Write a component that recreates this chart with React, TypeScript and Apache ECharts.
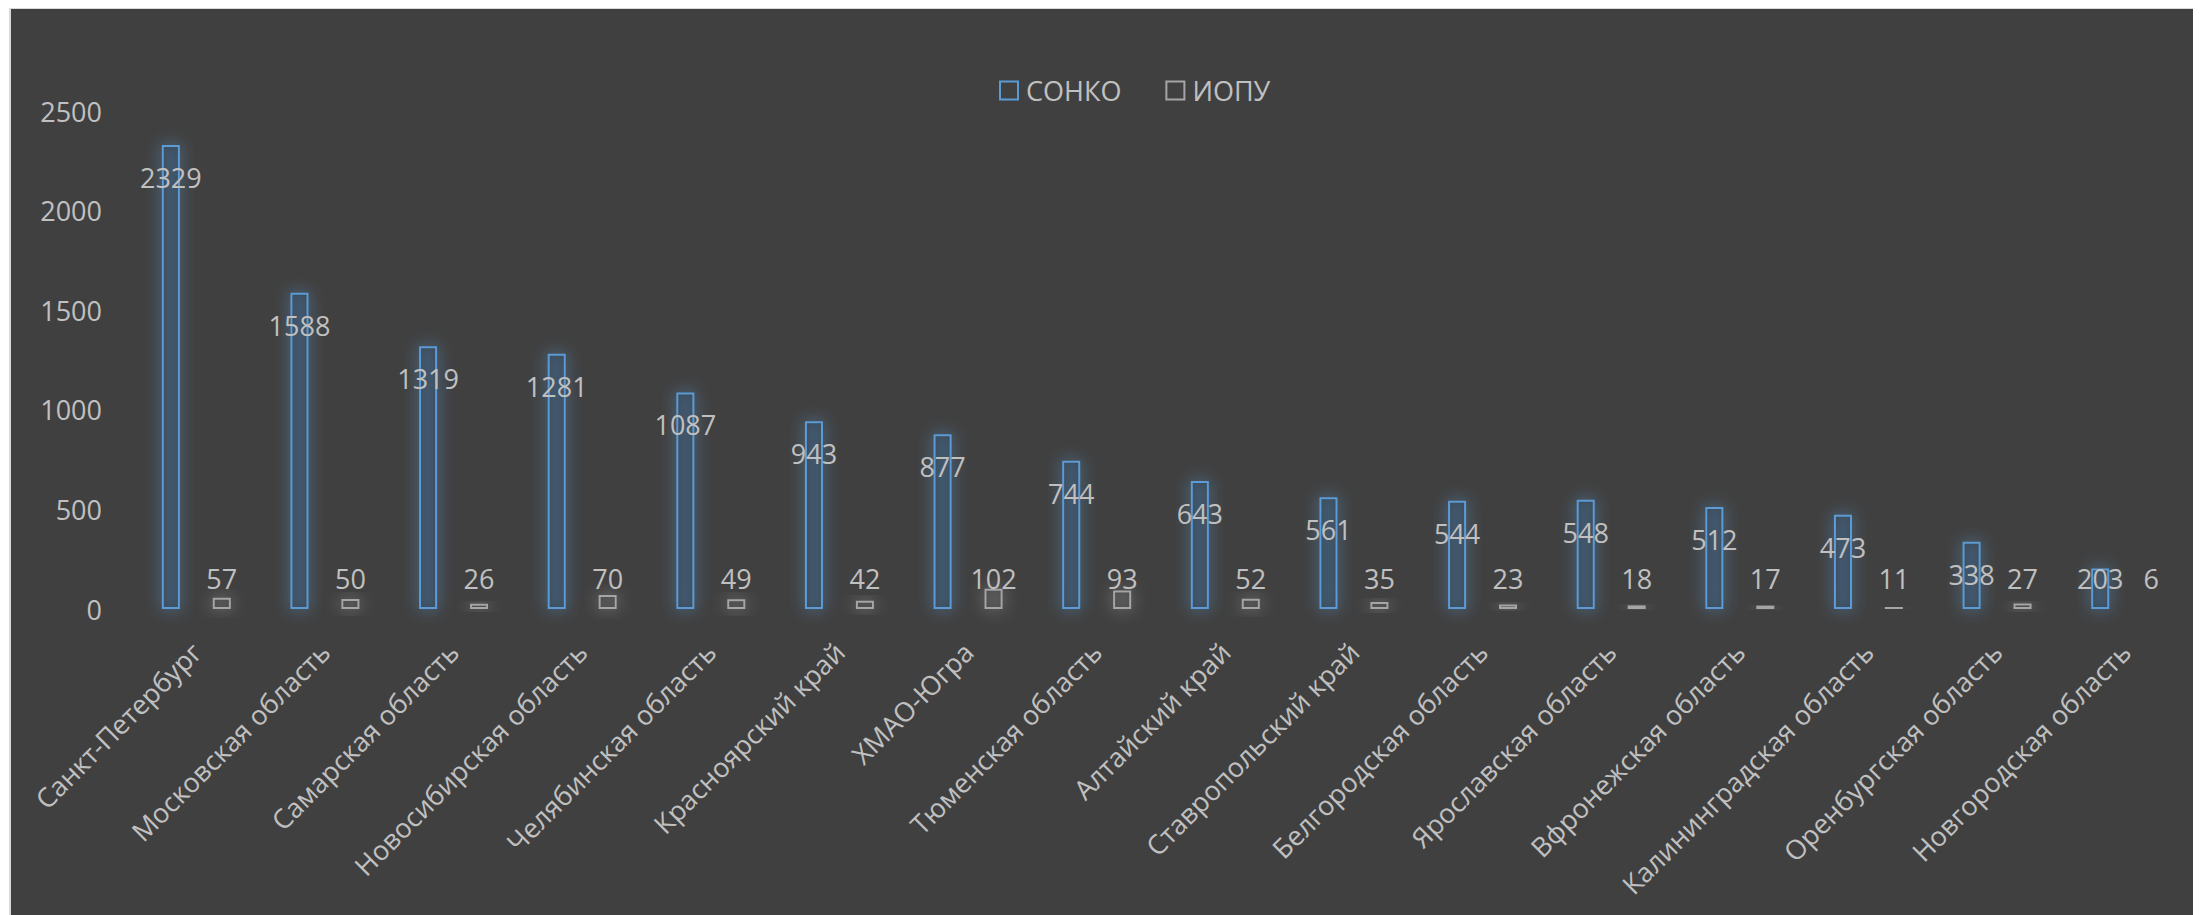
import React, { useEffect, useRef } from "react";
import * as echarts from "echarts";

const categories = [
  "Санкт-Петербург",
  "Московская область",
  "Самарская область",
  "Новосибирская область",
  "Челябинская область",
  "Красноярский край",
  "ХМАО-Югра",
  "Тюменская область",
  "Алтайский край",
  "Ставропольский край",
  "Белгородская область",
  "Ярославская область",
  "Вфронежская область",
  "Калининградская область",
  "Оренбургская область",
  "Новгородская область",
];

const sonkoValues = [2329, 1588, 1319, 1281, 1087, 943, 877, 744, 643, 561, 544, 548, 512, 473, 338, 203];
const iopuValues = [57, 50, 26, 70, 49, 42, 102, 93, 52, 35, 23, 18, 17, 11, 27, 6];

const seriesNames = ["СОНКО", "ИОПУ"];
const yMin = 0;
const yMax = 2500;
const yInterval = 500;

const FONT = "'Open Sans', 'Noto Sans', sans-serif";
const TEXT = "#c0c0c0";
const BLUE = "#5b9bd5";
const GREY = "#a5a5a5";

export default function App() {
  const ref = useRef<HTMLDivElement>(null);

  useEffect(() => {
    if (!ref.current) return;
    const chart = echarts.init(ref.current, undefined, { renderer: "svg" });
    const sonkoData = sonkoValues.map((v) =>
      v < 300 ? { value: v, label: { position: "insideBottom", distance: 17 } } : v
    );
    chart.setOption({
      animation: false,
      backgroundColor: "#404040",
      textStyle: { fontFamily: FONT },
      legend: {
        left: 983,
        top: 63,
        itemWidth: 18,
        itemHeight: 18,
        itemGap: 44,
        textStyle: { color: TEXT, fontSize: 27, fontFamily: FONT, padding: [0, 0, 0, 3] },
        data: [
          { name: seriesNames[0], icon: "rect", itemStyle: { color: "transparent", borderColor: BLUE, borderWidth: 2, shadowBlur: 0 } },
          { name: seriesNames[1], icon: "rect", itemStyle: { color: "transparent", borderColor: GREY, borderWidth: 2, shadowBlur: 0 } },
        ],
      },
      grid: { left: 121, right: 11, top: 102, bottom: 306, containLabel: false },
      xAxis: {
        type: "category",
        data: categories,
        axisLine: { show: false },
        axisTick: { show: false },
        axisLabel: {
          interval: 0,
          rotate: 45,
          margin: 38,
          color: TEXT,
          fontSize: 27,
          fontFamily: FONT,
        },
      },
      yAxis: {
        type: "value",
        min: yMin,
        max: yMax,
        interval: yInterval,
        axisLine: { show: false },
        axisTick: { show: false },
        splitLine: { show: false },
        axisLabel: {
          color: TEXT,
          fontSize: 27,
          fontFamily: FONT,
          margin: 30,
          formatter: (v: number) => String(v),
        },
      },
      series: [
        {
          name: seriesNames[0],
          type: "bar",
          data: sonkoData,
          barWidth: 18,
          barGap: "183%",
          itemStyle: {
            color: "rgba(30,40,55,0.3)",
            borderColor: BLUE,
            borderWidth: 2,
            shadowBlur: 16,
            shadowColor: "rgba(91,155,213,0.95)",
          },
          label: {
            show: true,
            position: "insideTop",
            distance: 19,
            color: TEXT,
            fontSize: 27,
            fontFamily: FONT,
          },
          z: 2,
        },
        {
          name: seriesNames[1],
          type: "bar",
          data: iopuValues,
          barWidth: 18,
          barGap: "183%",
          barMinHeight: 2,
          itemStyle: {
            color: "rgba(30,30,30,0.25)",
            borderColor: GREY,
            borderWidth: 2,
            shadowBlur: 16,
            shadowColor: "rgba(175,175,175,0.85)",
          },
          label: {
            show: true,
            position: "insideBottom",
            distance: 17,
            color: TEXT,
            fontSize: 27,
            fontFamily: FONT,
          },
          z: 2,
        },
      ],
    });
    return () => chart.dispose();
  }, []);

  return (
    <div
      style={{
        marginLeft: 1,
        width: 2192,
        height: 907,
        boxSizing: "border-box",
        borderLeft: "2px solid #d9d9d9",
        borderTop: "1px solid #d9d9d9",
        background: "#404040",
        overflow: "hidden",
      }}
    >
      <div ref={ref} style={{ width: 2190, height: 906 }} />
    </div>
  );
}
